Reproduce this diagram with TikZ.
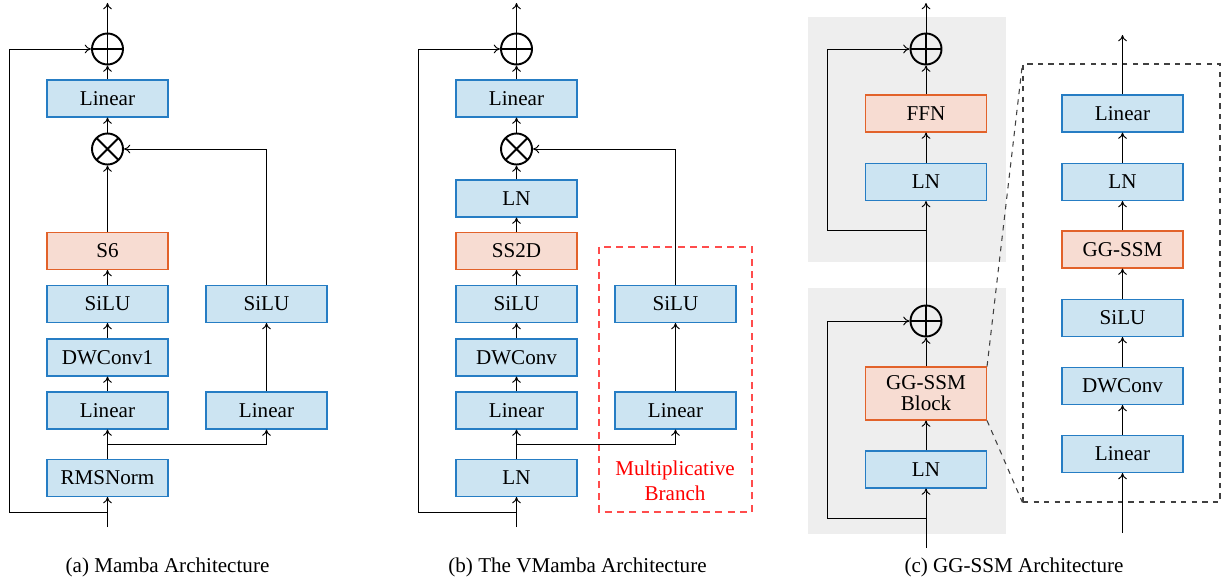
\documentclass[tikz,border=0pt]{standalone}
\usepackage{fontspec}
\setmainfont{Liberation Serif}
\usetikzlibrary{shapes.geometric, arrows.meta, positioning}
\definecolor{blockblue}{RGB}{204,228,242}
\definecolor{edgeblue}{RGB}{38,125,196}
\definecolor{blockred}{RGB}{247,220,210}
\definecolor{edgered}{RGB}{226,98,42}
\definecolor{panelgray}{RGB}{238,238,238}
\tikzstyle{layer} = [rectangle, minimum width=2.42cm, minimum height=0.74cm, inner sep=0pt, align=center, draw=edgeblue, fill=blockblue, line width=0.6pt]
\tikzstyle{mixer} = [layer, draw=edgered, fill=blockred]
\tikzstyle{addop} = [circle, draw, line width=1.1pt, minimum size=0.62cm, inner sep=0pt, path picture={\draw[line width=1.1pt] (path picture bounding box.north) -- (path picture bounding box.south) (path picture bounding box.west) -- (path picture bounding box.east);}]
\tikzstyle{mulop} = [circle, draw, line width=1.1pt, minimum size=0.62cm, inner sep=0pt, path picture={\draw[line width=1.1pt] (path picture bounding box.north west) -- (path picture bounding box.south east) (path picture bounding box.north east) -- (path picture bounding box.south west);}]
\tikzstyle{arrow} = [-{To[length=3.6pt, width=5pt]}, line width=0.55pt]
\tikzstyle{caption} = [font=\fontsize{12}{14}\selectfont]

\begin{document}
\begin{tikzpicture}[every node/.style={font=\fontsize{12}{14}\selectfont}]
\useasboundingbox (0, 0) rectangle (24.56, -11.58);

% Panel (a): Mamba
\node[addop] (a_add) at (2.15, -0.98) {};
\node[layer] (a_lin3) at (2.15, -1.97) {Linear};
\node[mulop] (a_mul) at (2.15, -2.98) {};
\node[mixer] (a_s6) at (2.15, -5.02) {S6};
\node[layer] (a_silu1) at (2.15, -6.08) {SiLU};
\node[layer] (a_conv) at (2.15, -7.15) {DWConv1};
\node[layer] (a_lin1) at (2.15, -8.21) {Linear};
\node[layer] (a_norm) at (2.15, -9.56) {RMSNorm};
\node[layer] (a_silu2) at (5.33, -6.08) {SiLU};
\node[layer] (a_lin2) at (5.33, -8.21) {Linear};
\coordinate (a_in) at (2.15, -10.54);
\coordinate (a_skip) at (2.15, -10.24);
\coordinate (a_br) at (2.15, -8.88);
\coordinate (a_out) at (2.15, -0.06);

\draw [arrow] (a_in) -- (a_norm);
\draw [arrow] (a_skip) -- ++(-1.96, 0) |- (a_add);
\draw [arrow] (a_norm) -- (a_lin1);
\draw [arrow] (a_br) -| (a_lin2);
\draw [arrow] (a_lin1) -- (a_conv);
\draw [arrow] (a_conv) -- (a_silu1);
\draw [arrow] (a_silu1) -- (a_s6);
\draw [arrow] (a_s6) -- (a_mul);
\draw [arrow] (a_lin2) -- (a_silu2);
\draw [arrow] (a_silu2) |- (a_mul);
\draw [arrow] (a_mul) -- (a_lin3);
\draw [arrow] (a_lin3) -- (a_add);
\draw [arrow] (a_add) -- (a_out);
\node[caption] (a_cap) at (3.35, -11.34) {(a) Mamba Architecture};

% Panel (b): VMamba
\draw [red!70, dashed, dash pattern=on 4pt off 3pt, line width=0.6pt] (11.98, -4.94) rectangle (15.04, -10.24);
\node[addop] (b_add) at (10.33, -0.98) {};
\node[layer] (b_lin3) at (10.33, -1.97) {Linear};
\node[mulop] (b_mul) at (10.33, -2.98) {};
\node[layer] (b_ln2) at (10.33, -3.97) {LN};
\node[mixer] (b_ss2d) at (10.33, -5.02) {SS2D};
\node[layer] (b_silu1) at (10.33, -6.08) {SiLU};
\node[layer] (b_conv) at (10.33, -7.15) {DWConv};
\node[layer] (b_lin1) at (10.33, -8.21) {Linear};
\node[layer] (b_ln1) at (10.33, -9.56) {LN};
\node[layer] (b_silu2) at (13.51, -6.08) {SiLU};
\node[layer] (b_lin2) at (13.51, -8.21) {Linear};
\node[red, align=center] (b_mult) at (13.5, -9.62) {Multiplicative\\Branch};
\coordinate (b_in) at (10.33, -10.54);
\coordinate (b_skip) at (10.33, -10.24);
\coordinate (b_br) at (10.33, -8.88);
\coordinate (b_out) at (10.33, -0.06);

\draw [arrow] (b_in) -- (b_ln1);
\draw [arrow] (b_skip) -- ++(-1.97, 0) |- (b_add);
\draw [arrow] (b_ln1) -- (b_lin1);
\draw [arrow] (b_br) -| (b_lin2);
\draw [arrow] (b_lin1) -- (b_conv);
\draw [arrow] (b_conv) -- (b_silu1);
\draw [arrow] (b_silu1) -- (b_ss2d);
\draw [arrow] (b_ss2d) -- (b_ln2);
\draw [arrow] (b_ln2) -- (b_mul);
\draw [arrow] (b_lin2) -- (b_silu2);
\draw [arrow] (b_silu2) |- (b_mul);
\draw [arrow] (b_mul) -- (b_lin3);
\draw [arrow] (b_lin3) -- (b_add);
\draw [arrow] (b_add) -- (b_out);
\node[caption] (b_cap) at (11.55, -11.34) {(b) The VMamba Architecture};

% Panel (c): GG-SSM
\fill [panelgray] (16.16, -0.34) rectangle (20.12, -5.24);
\fill [panelgray] (16.16, -5.76) rectangle (20.12, -10.68);
\node[addop] (c_add2) at (18.52, -0.98) {};
\node[mixer] (c_ffn) at (18.52, -2.27) {FFN};
\node[layer] (c_ln2) at (18.52, -3.64) {LN};
\node[addop] (c_add1) at (18.52, -6.42) {};
\node[mixer, minimum height=1.06cm] (c_blk) at (18.52, -7.87) {GG-SSM\\[-2pt]Block};
\node[layer] (c_ln1) at (18.52, -9.39) {LN};
\coordinate (c_in) at (18.52, -10.96);
\coordinate (c_skip1) at (18.52, -10.36);
\coordinate (c_skip2) at (18.52, -4.60);
\coordinate (c_out) at (18.52, -0.06);

\draw [arrow] (c_in) -- (c_ln1);
\draw [arrow] (c_skip1) -- ++(-1.98, 0) |- (c_add1);
\draw [arrow] (c_ln1) -- (c_blk);
\draw [arrow] (c_blk) -- (c_add1);
\draw [arrow] (c_add1) -- (c_ln2);
\draw [arrow] (c_skip2) -- ++(-1.98, 0) |- (c_add2);
\draw [arrow] (c_ln2) -- (c_ffn);
\draw [arrow] (c_ffn) -- (c_add2);
\draw [arrow] (c_add2) -- (c_out);

% GG-SSM block detail
\node[draw=black!75, dashed, line width=0.6pt, minimum width=3.94cm, minimum height=8.76cm, inner sep=0pt] (c_zoom) at (22.43, -5.66) {};
\draw [black!75, dashed, line width=0.6pt] (c_blk.north east) -- (c_zoom.north west);
\draw [black!75, dashed, line width=0.6pt] (c_blk.south east) -- (c_zoom.south west);
\node[layer] (d_lin2) at (22.45, -2.27) {Linear};
\node[layer] (d_ln) at (22.45, -3.64) {LN};
\node[mixer] (d_ssm) at (22.45, -4.99) {GG-SSM};
\node[layer] (d_silu) at (22.45, -6.36) {SiLU};
\node[layer] (d_conv) at (22.45, -7.72) {DWConv};
\node[layer] (d_lin1) at (22.45, -9.08) {Linear};
\coordinate (d_in) at (22.45, -10.66);
\coordinate (d_out) at (22.45, -0.70);

\draw [arrow] (d_in) -- (d_lin1);
\draw [arrow] (d_lin1) -- (d_conv);
\draw [arrow] (d_conv) -- (d_silu);
\draw [arrow] (d_silu) -- (d_ssm);
\draw [arrow] (d_ssm) -- (d_ln);
\draw [arrow] (d_ln) -- (d_lin2);
\draw [arrow] (d_lin2) -- (d_out);
\node[caption] (c_cap) at (20.28, -11.34) {(c) GG-SSM Architecture};

\end{tikzpicture}
\end{document}
